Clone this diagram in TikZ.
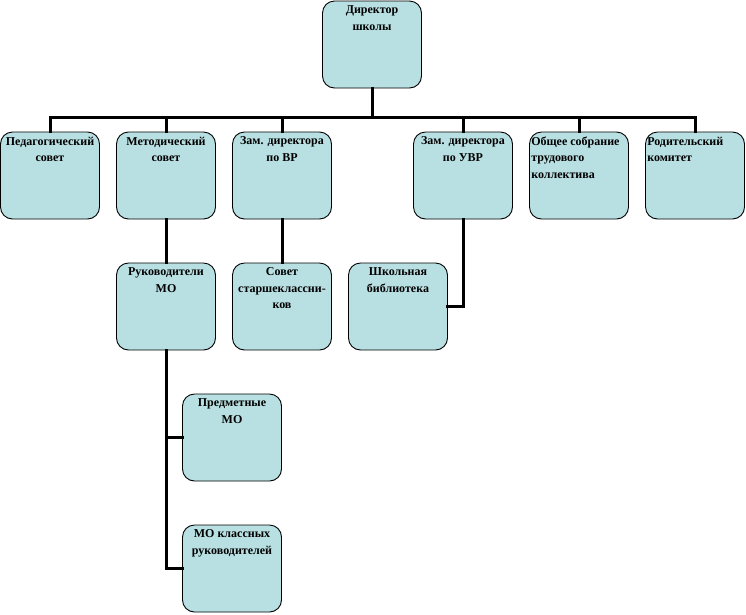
\documentclass[tikz,border=0pt]{standalone}
\usepackage{fontspec}
\setmainfont{Liberation Serif}
\definecolor{boxfill}{HTML}{B8DFE2}
\tikzset{
  box/.style={draw=black, fill=boxfill, rounded corners=12pt, line width=0.9pt,
    minimum width=99pt, minimum height=87pt, inner sep=0pt,
    label={[lbl]north:#1}},
  lbl/.style={anchor=north, yshift=-5pt, align=center,
    font=\fontsize{12}{16.5}\selectfont\bfseries, inner sep=0pt},
  lboxl/.style={draw=black, fill=boxfill, rounded corners=12pt, line width=0.9pt,
    minimum width=99pt, minimum height=87pt, inner sep=0pt,
    label={[lbl, anchor=north west, align=left, xshift=2pt]north west:#1}},
  link/.style={line width=3pt, line cap=rect}
}
\begin{document}
\begin{tikzpicture}[x=1pt, y=-1pt]
  \useasboundingbox (0,0) rectangle (746,614);
  % top
  \node[box={Директор\\школы}] (dir) at (372,44.5) {};
  % first row
  \node[box={Педагогический\\совет}] (ped) at (50,175.5) {};
  \node[box={Методический\\совет}] (met) at (166,175.5) {};
  \node[box={Зам. директора\\по ВР}] (vr) at (282,175.5) {};
  \node[box={Зам. директора\\по УВР}] (uvr) at (463,175.5) {};
  \node[lboxl={Общее собрание\\трудового\\коллектива}] (sobr) at (579,175.5) {};
  \node[lboxl={Родительский\\комитет}] (rod) at (695,175.5) {};
  % second row
  \node[box={Руководители\\МО}] (ruk) at (166,306.5) {};
  \node[box={Совет\\старшеклассни-\\ков}] (sov) at (282,306.5) {};
  \node[box={Школьная\\библиотека}] (bib) at (398,306.5) {};
  % third row
  \node[box={Предметные\\МО}] (pred) at (232,437.5) {};
  \node[box={МО классных\\руководителей}] (kl) at (232,568.5) {};
  % bus
  \coordinate (bus) at (372,117);
  \draw[link] (dir.south) -- (bus);
  \foreach \n in {ped,met,vr,uvr,sobr,rod}
    \draw[link] (bus) -| (\n.north);
  \draw[link] (met) -- (ruk);
  \draw[link] (vr) -- (sov);
  \draw[link] (uvr.south) |- (bib.east);
  \draw[link] (ruk.south) |- (kl.west);
  \draw[link] (ruk.south) |- (pred.west);
\end{tikzpicture}
\end{document}
